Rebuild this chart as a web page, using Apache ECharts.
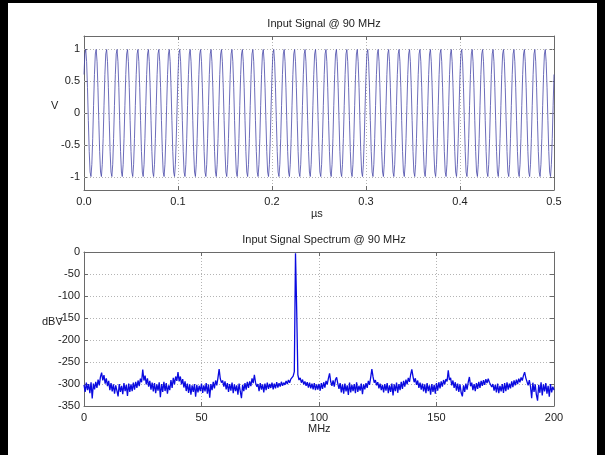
<!DOCTYPE html>
<html>
<head>
<meta charset="utf-8">
<script src="https://cdn.jsdelivr.net/npm/echarts@6/dist/echarts.min.js"></script>
<style>
  html, body { margin: 0; padding: 0; background: #fff; }
  #chart { width: 605px; height: 455px; }
</style>
</head>
<body>
<div id="chart"></div>
<script>
// input signal: one sampled cycle of the 90 MHz tone, repeated across the 0.5 us window
const signalCycleV = [0.6, 0.92, 0.99, 0.8, 0.4, -0.12, -0.6, -0.92, -0.99, -0.8, -0.4, 0.12];
const signalCycles = 45;
const signalSpanUs = 0.5;
const timeTicks = [0, 0.1, 0.2, 0.3, 0.4, 0.5];
const voltTicks = [-1, -0.5, 0, 0.5, 1];

// spectrum, one value every 0.5 MHz from 0 to 200 MHz
const spectrumStepMHz = 0.5;
const spectrumDbv = [
  -302, -318, -297, -314, -300, -321, -296, -333, -299, -312, -295, -309, -290, -303, -284, -274, -292, -280, -299, -287,
  -305, -293, -314, -298, -317, -301, -322, -303, -315, -328, -300, -318, -304, -323, -298, -316, -302, -327, -299, -318,
  -301, -316, -297, -313, -295, -309, -292, -305, -288, -296, -267, -292, -281, -301, -287, -306, -293, -313, -297, -317,
  -298, -321, -301, -315, -296, -330, -300, -318, -295, -316, -298, -322, -303, -314, -291, -309, -286, -301, -283, -293,
  -273, -294, -283, -301, -289, -308, -294, -316, -299, -320, -301, -324, -303, -318, -300, -329, -302, -319, -304, -316,
  -299, -320, -303, -317, -298, -322, -301, -331, -300, -314, -295, -310, -292, -303, -286, -266, -288, -297, -292, -306,
  -294, -312, -298, -318, -300, -315, -297, -321, -301, -316, -303, -324, -299, -317, -332, -302, -316, -298, -313, -295,
  -309, -294, -305, -287, -298, -279, -297, -306, -300, -316, -298, -313, -301, -319, -299, -314, -297, -311, -300, -309,
  -297, -312, -299, -310, -296, -308, -298, -306, -295, -304, -297, -302, -293, -300, -291, -297, -289, -293, -282, -272,
  -3, -130, -279, -291, -286, -297, -290, -301, -294, -304, -296, -308, -297, -310, -299, -312, -298, -314, -301, -313,
  -300, -315, -298, -311, -296, -308, -293, -301, -287, -276, -295, -304, -292, -306, -290, -285, -299, -311, -298, -319,
  -301, -322, -299, -317, -303, -325, -297, -319, -302, -316, -300, -321, -296, -318, -304, -315, -299, -323, -301, -312,
  -298, -309, -293, -302, -285, -266, -284, -297, -291, -303, -296, -310, -299, -314, -302, -319, -300, -315, -298, -321,
  -303, -318, -299, -326, -301, -316, -297, -320, -300, -314, -295, -311, -293, -306, -290, -301, -286, -295, -279, -267,
  -283, -296, -287, -302, -292, -309, -297, -313, -299, -317, -301, -321, -298, -316, -303, -324, -300, -318, -302, -322,
  -298, -315, -296, -310, -294, -306, -291, -301, -289, -294, -269, -291, -286, -303, -292, -309, -296, -315, -299, -318,
  -301, -320, -328, -303, -318, -299, -313, -296, -284, -305, -297, -314, -300, -316, -298, -311, -295, -309, -293, -304,
  -291, -302, -289, -298, -288, -296, -295, -307, -300, -315, -302, -319, -299, -321, -304, -317, -300, -320, -298, -316,
  -296, -313, -299, -310, -294, -307, -292, -303, -290, -300, -288, -296, -285, -292, -281, -273, -286, -282, -303, -291,
  -306, -332, -297, -318, -301, -324, -338, -302, -320, -296, -326, -301, -317, -298, -322, -304, -329, -300, -319, -306,
  -314
];
const freqTicks = [0, 50, 100, 150, 200];
const dbvTicks = [-350, -300, -250, -200, -150, -100, -50, 0];

const signalPoints = [];
const dt = signalSpanUs / (signalCycles * signalCycleV.length);
for (let c = 0; c < signalCycles; c++) {
  signalCycleV.forEach((v, k) => {
    signalPoints.push([(c * signalCycleV.length + k) * dt, v]);
  });
}
signalPoints.push([signalSpanUs, signalCycleV[0]]);

const spectrumPoints = spectrumDbv.map((v, i) => [i * spectrumStepMHz, v]);

const FONT = "Liberation Sans";
const boxLine = { show: true, onZero: false, lineStyle: { color: "#6a6a6a", width: 1 } };
const inTick = { show: true, inside: true, length: 4, lineStyle: { color: "#6a6a6a" } };
const tickLabel = { color: "#222", fontFamily: FONT, fontSize: 11 };
const dotted = { show: true, lineStyle: { color: "#b4b4b4", width: 1, type: [1, 2] } };

function xAxes(gridIndex, ticks, fmt) {
  const min = ticks[0], max = ticks[ticks.length - 1], interval = ticks[1] - ticks[0];
  return [
    {
      type: "value", gridIndex, min, max, interval, position: "bottom",
      axisLine: boxLine, axisTick: inTick, splitLine: dotted,
      axisLabel: { ...tickLabel, margin: 6, formatter: fmt },
    },
    {
      type: "value", gridIndex, min, max, interval, position: "top",
      axisLine: boxLine, axisTick: inTick, splitLine: { show: false }, axisLabel: { show: false },
    },
  ];
}

const chart = echarts.init(document.getElementById("chart"), null, { renderer: "canvas" });

chart.setOption({
  animation: false,
  backgroundColor: "#fff",
  title: [
    { text: "Input Signal @ 90 MHz", left: 319, top: 13, textAlign: "center",
      textStyle: { fontFamily: FONT, fontSize: 11, fontWeight: "normal", color: "#222" } },
    { text: "Input Signal Spectrum @ 90 MHz", left: 319, top: 229, textAlign: "center",
      textStyle: { fontFamily: FONT, fontSize: 11, fontWeight: "normal", color: "#222" } },
  ],
  grid: [
    { left: 84, top: 36, width: 470, height: 154 },
    { left: 84, top: 252, width: 470, height: 154 },
  ],
  xAxis: [
    ...xAxes(0, timeTicks, v => v.toFixed(1)),
    ...xAxes(1, freqTicks, v => String(v)),
  ],
  yAxis: [
    {
      type: "value", gridIndex: 0, min: -1.2, max: 1.2, position: "left",
      axisLine: boxLine, splitLine: { show: false },
      axisTick: { ...inTick, customValues: voltTicks },
      axisLabel: { ...tickLabel, margin: 4, customValues: voltTicks, formatter: v => String(v) },
    },
    {
      type: "value", gridIndex: 0, min: -1.2, max: 1.2, position: "right",
      axisLine: boxLine, splitLine: { show: false }, axisLabel: { show: false },
      axisTick: { ...inTick, customValues: voltTicks },
    },
    {
      type: "value", gridIndex: 1, min: dbvTicks[0], max: dbvTicks[dbvTicks.length - 1],
      interval: dbvTicks[1] - dbvTicks[0], position: "left",
      axisLine: boxLine, axisTick: inTick, splitLine: dotted,
      axisLabel: { ...tickLabel, margin: 4 },
    },
    {
      type: "value", gridIndex: 1, min: dbvTicks[0], max: dbvTicks[dbvTicks.length - 1],
      interval: dbvTicks[1] - dbvTicks[0], position: "right",
      axisLine: boxLine, axisTick: inTick, splitLine: { show: false }, axisLabel: { show: false },
    },
  ],
  series: [
    {
      type: "line", xAxisIndex: 0, yAxisIndex: 0, data: signalPoints,
      showSymbol: false, silent: true,
      lineStyle: { color: "#4848a8", width: 0.8 },
      markLine: {
        silent: true, symbol: "none", label: { show: false }, z: 1,
        lineStyle: { color: "#b4b4b4", width: 1, type: [1, 2] },
        data: voltTicks.map(v => ({ yAxis: v })),
      },
    },
    {
      type: "line", xAxisIndex: 2, yAxisIndex: 2, data: spectrumPoints,
      showSymbol: false, silent: true,
      lineStyle: { color: "#0a0ae0", width: 1.3 },
    },
  ],
  graphic: [
    { type: "text", left: 51, top: 100, style: { text: "V", font: "11px Liberation Sans", fill: "#222" } },
    { type: "text", left: 311, top: 208, style: { text: "µs", font: "11px Liberation Sans", fill: "#222" } },
    { type: "text", left: 42, top: 316, style: { text: "dBV", font: "11px Liberation Sans", fill: "#222" } },
    { type: "text", left: 308, top: 423, style: { text: "MHz", font: "11px Liberation Sans", fill: "#222" } },
    { type: "rect", left: 0, top: 0, shape: { width: 8, height: 455 }, style: { fill: "#000" } },
    { type: "rect", right: 0, top: 0, shape: { width: 8, height: 455 }, style: { fill: "#000" } },
    { type: "rect", left: 0, top: 0, shape: { width: 605, height: 3 }, style: { fill: "#000" } },
  ],
});
</script>
</body>
</html>
